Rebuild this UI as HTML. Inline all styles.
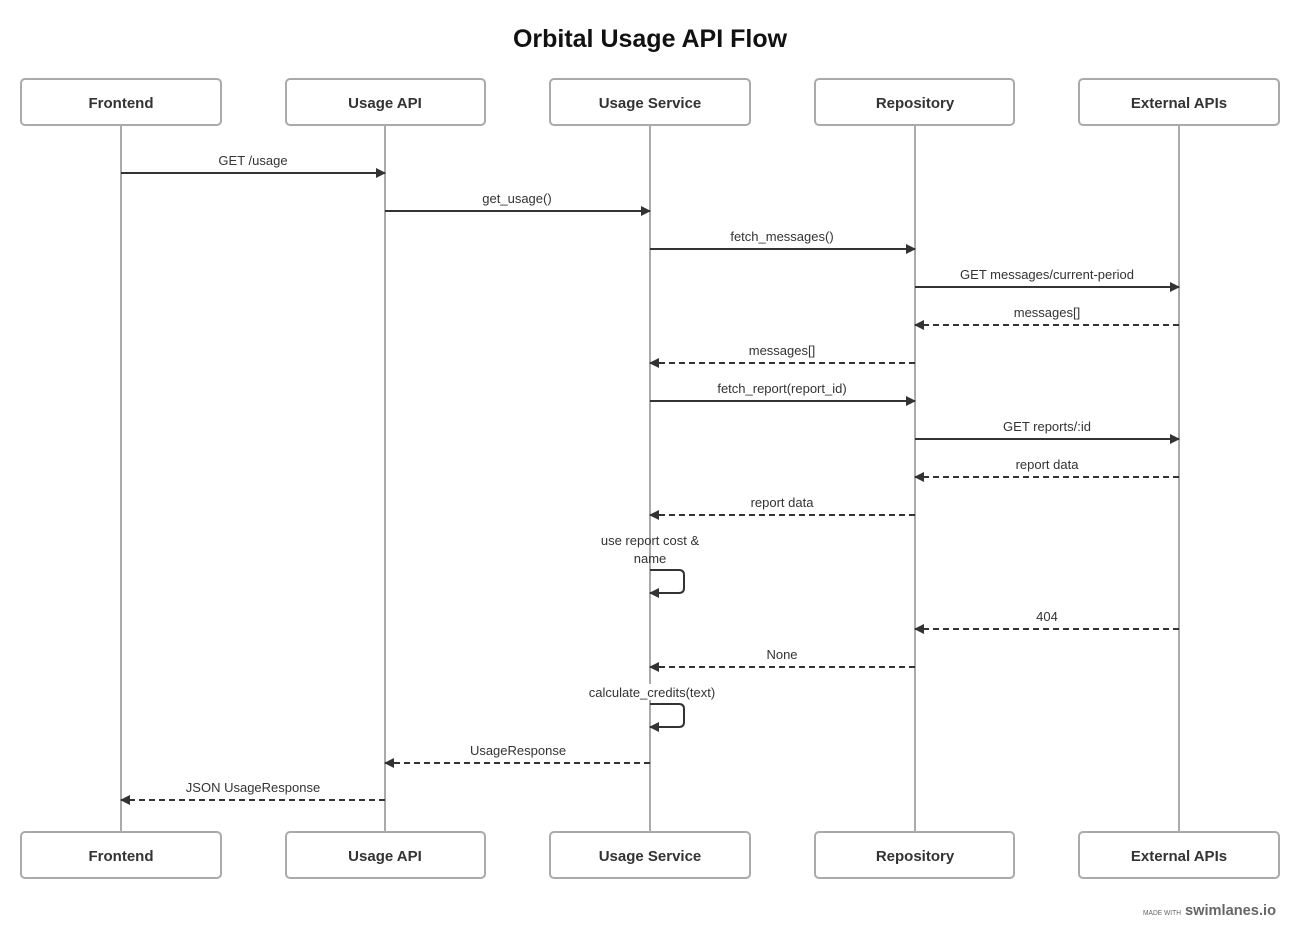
<!DOCTYPE html>
<html><head><meta charset="utf-8"><style>
html,body{margin:0;padding:0;background:#fff;}
svg{display:block;font-family:"Liberation Sans",sans-serif;}
</style></head><body>
<svg width="1300" height="939" viewBox="0 0 1300 939" xmlns="http://www.w3.org/2000/svg">
<defs>
<marker id="a" markerWidth="10" markerHeight="10" refX="9" refY="5" orient="auto" markerUnits="userSpaceOnUse">
<path d="M0,0 L10,5 L0,10 z" fill="#333"/></marker>
</defs>
<text x="650" y="47" text-anchor="middle" font-size="25" font-weight="bold" fill="#111">Orbital Usage API Flow</text>
<g stroke="#aaa" stroke-width="2">
<line x1="121" y1="125" x2="121" y2="832"/>
<line x1="385" y1="125" x2="385" y2="832"/>
<line x1="650" y1="125" x2="650" y2="832"/>
<line x1="915" y1="125" x2="915" y2="832"/>
<line x1="1179" y1="125" x2="1179" y2="832"/>
</g>
<g fill="#fff" stroke="#aaa" stroke-width="2">
<rect x="21" y="79" width="200" height="46" rx="4"/>
<rect x="286" y="79" width="199" height="46" rx="4"/>
<rect x="550" y="79" width="200" height="46" rx="4"/>
<rect x="815" y="79" width="199" height="46" rx="4"/>
<rect x="1079" y="79" width="200" height="46" rx="4"/>
<rect x="21" y="832" width="200" height="46" rx="4"/>
<rect x="286" y="832" width="199" height="46" rx="4"/>
<rect x="550" y="832" width="200" height="46" rx="4"/>
<rect x="815" y="832" width="199" height="46" rx="4"/>
<rect x="1079" y="832" width="200" height="46" rx="4"/>
</g>
<g font-size="15" font-weight="bold" fill="#333" text-anchor="middle">
<text x="121" y="108">Frontend</text><text x="385" y="108">Usage API</text><text x="650" y="108">Usage Service</text><text x="915" y="108">Repository</text><text x="1179" y="108">External APIs</text>
<text x="121" y="861">Frontend</text><text x="385" y="861">Usage API</text><text x="650" y="861">Usage Service</text><text x="915" y="861">Repository</text><text x="1179" y="861">External APIs</text>
</g>
<g stroke="#333" stroke-width="2" fill="none" marker-end="url(#a)">
<line x1="121" y1="173" x2="385" y2="173"/>
<line x1="385" y1="211" x2="650" y2="211"/>
<line x1="650" y1="249" x2="915" y2="249"/>
<line x1="915" y1="287" x2="1179" y2="287"/>
<line x1="1179" y1="325" x2="915" y2="325" stroke-dasharray="6,4"/>
<line x1="915" y1="363" x2="650" y2="363" stroke-dasharray="6,4"/>
<line x1="650" y1="401" x2="915" y2="401"/>
<line x1="915" y1="439" x2="1179" y2="439"/>
<line x1="1179" y1="477" x2="915" y2="477" stroke-dasharray="6,4"/>
<line x1="915" y1="515" x2="650" y2="515" stroke-dasharray="6,4"/>
<path d="M650,570 H679 Q684,570 684,575 V588 Q684,593 679,593 H650"/>
<line x1="1179" y1="629" x2="915" y2="629" stroke-dasharray="6,4"/>
<line x1="915" y1="667" x2="650" y2="667" stroke-dasharray="6,4"/>
<path d="M650,704 H679 Q684,704 684,709 V722 Q684,727 679,727 H650"/>
<line x1="650" y1="763" x2="385" y2="763" stroke-dasharray="6,4"/>
<line x1="385" y1="800" x2="121" y2="800" stroke-dasharray="6,4"/>
</g>
<rect x="586" y="684" width="130" height="16" fill="#fff"/>
<g font-size="13" fill="#333" text-anchor="middle">
<text x="253" y="165">GET /usage</text>
<text x="517" y="203">get_usage()</text>
<text x="782" y="241">fetch_messages()</text>
<text x="1047" y="279">GET messages/current-period</text>
<text x="1047" y="317">messages[]</text>
<text x="782" y="355">messages[]</text>
<text x="782" y="393">fetch_report(report_id)</text>
<text x="1047" y="431">GET reports/:id</text>
<text x="1047" y="469">report data</text>
<text x="782" y="507">report data</text>
<text x="650" y="545">use report cost &amp;</text>
<text x="650" y="563">name</text>
<text x="1047" y="621">404</text>
<text x="782" y="659">None</text>
<text x="652" y="697">calculate_credits(text)</text>
<text x="518" y="755">UsageResponse</text>
<text x="253" y="792">JSON UsageResponse</text>
</g>
<text x="1143" y="915" font-size="7" fill="#666" textLength="38" lengthAdjust="spacingAndGlyphs">MADE WITH</text>
<text x="1185" y="915" font-size="15" font-weight="bold" fill="#666" textLength="91" lengthAdjust="spacingAndGlyphs">swimlanes.io</text>
</svg>
</body></html>
